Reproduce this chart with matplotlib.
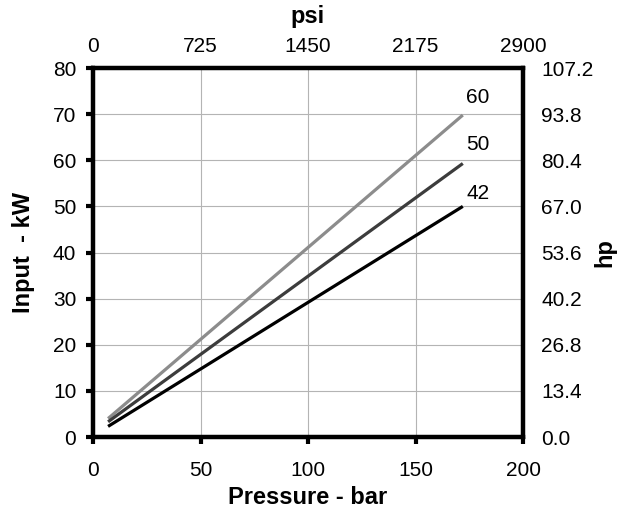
import matplotlib
matplotlib.use("Agg")
import matplotlib.pyplot as plt

plt.rcParams['font.family'] = ['Liberation Sans', 'DejaVu Sans']

# Input power vs pressure for three pump sizes
pressure_bar = [7, 172]
series_names = ['60', '50', '42']
power_kw = {
    '60': [4.0, 69.8],
    '50': [3.3, 59.3],
    '42': [2.3, 50.0],
}
series_colors = {'60': '#8c8c8c', '50': '#3c3c3c', '42': '#000000'}
label_pos = {'60': (179, 73.5), '50': (179, 63.4), '42': (179, 52.8)}

bar_ticks = [0, 50, 100, 150, 200]
kw_ticks = [0, 10, 20, 30, 40, 50, 60, 70, 80]
psi_ticks = [0, 725, 1450, 2175, 2900]
hp_ticks = [0.0, 13.4, 26.8, 40.2, 53.6, 67.0, 80.4, 93.8, 107.2]

TICK_FS = 15
LABEL_FS = 17

fig = plt.figure(figsize=(6.21, 5.11), dpi=100)
ax = fig.add_axes([0.1498, 0.1448, 0.6924, 0.7221])

for name in series_names:
    ax.plot(pressure_bar, power_kw[name], color=series_colors[name], linewidth=2.3,
            solid_capstyle='butt')
    ax.text(*label_pos[name], name, fontsize=TICK_FS, ha='center', va='center')

ax.set_xlim(0, 200)
ax.set_ylim(0, 80)
ax.set_xticks(bar_ticks)
ax.set_yticks(kw_ticks)
ax.grid(True, color='#b4b4b4', linewidth=0.8)
ax.set_axisbelow(True)
ax.tick_params(axis='both', labelsize=TICK_FS, width=3, length=5, direction='out')
ax.tick_params(axis='x', pad=12)
ax.tick_params(axis='y', pad=7)
ax.set_xlabel('Pressure - bar', fontsize=LABEL_FS, fontweight='bold')
ax.xaxis.set_label_coords(0.5, -0.133)
ax.set_ylabel('Input  - kW', fontsize=LABEL_FS, fontweight='bold')
ax.yaxis.set_label_coords(-0.134, 0.5)
for spine in ax.spines.values():
    spine.set_linewidth(3)

# Secondary scales: psi on top, hp on the right
ax_top = ax.twiny()
ax_top.set_xlim(0, 2900)
ax_top.set_xticks(psi_ticks)
ax_top.tick_params(axis='x', labelsize=TICK_FS, length=0, pad=9)
ax_top.set_xlabel('psi', fontsize=LABEL_FS, fontweight='bold')
ax_top.xaxis.set_label_coords(0.5, 1.122)

ax_right = ax.twinx()
ax_right.set_ylim(0, 107.2)
ax_right.set_yticks(hp_ticks)
ax_right.set_yticklabels([f'{v:.1f}' for v in hp_ticks])
ax_right.tick_params(axis='y', labelsize=TICK_FS, length=0, pad=13)
ax_right.set_ylabel('hp', fontsize=LABEL_FS, fontweight='bold', rotation=90,
                    ha='center', va='center')
ax_right.yaxis.set_label_coords(1.19, 0.5)

for a in (ax_top, ax_right):
    for spine in a.spines.values():
        spine.set_linewidth(3)

fig.savefig('out.png', dpi=100)
